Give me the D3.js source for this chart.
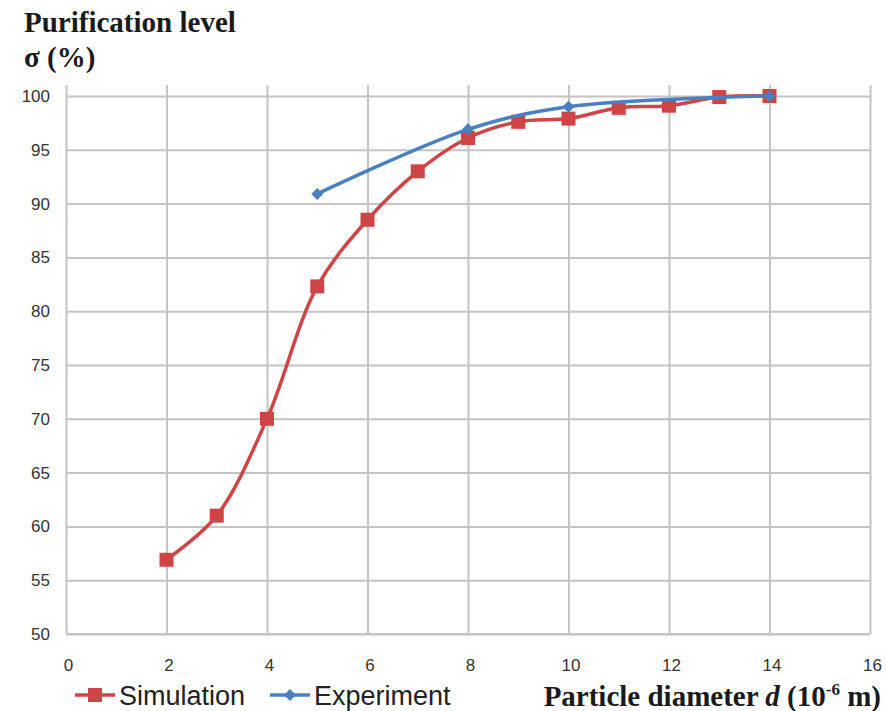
<!DOCTYPE html>
<html>
<head>
<meta charset="utf-8">
<script src="https://cdn.jsdelivr.net/npm/d3@7"></script>
<style>
  body { margin: 0; background: #fff; }
</style>
</head>
<body>
<svg id="chart"></svg>
<script>
// Data
const simX = [2, 3, 4, 5, 6, 7, 8, 9, 10, 11, 12, 13, 14];
const simY = [56.9, 61, 70, 82.3, 88.5, 93, 96.1, 97.6, 97.9, 98.9, 99.1, 99.9, 100];
const expX = [5, 8, 10, 14];
const expY = [90.9, 96.9, 99.0, 100];
const xTicks = [0, 2, 4, 6, 8, 10, 12, 14, 16];
const yTicks = [50, 55, 60, 65, 70, 75, 80, 85, 90, 95, 100];

const dims = {
    width: 886,
    height: 711,
    left: 66,
    right: 870,
    top: 96,
    bottom: 634
};

const svg = d3.select("#chart")
    .attr("width", dims.width)
    .attr("height", dims.height);

const x = d3.scaleLinear().domain([0, 16]).range([dims.left, dims.right]);
const y = d3.scaleLinear().domain([50, 100]).range([dims.bottom, dims.top]);

const gridColor = "#c4c4c4";
const sans = "'Liberation Sans', Arial, sans-serif";
const serif = "'Liberation Serif', 'Times New Roman', serif";

// horizontal grid + y labels
svg.append("g")
    .attr("transform", `translate(${dims.left},0)`)
    .call(d3.axisLeft(y).tickValues(yTicks).tickSize(-(dims.right - dims.left)).tickFormat(d3.format("d")))
    .call(g => g.select(".domain").remove())
    .call(g => g.selectAll(".tick line").attr("stroke", gridColor).attr("stroke-width", 2))
    .call(g => g.selectAll(".tick text")
        .attr("x", -16)
        .attr("fill", "#333")
        .style("font-family", sans)
        .style("font-size", "17px"));

// vertical grid (runs a little above the top line, as in the original)
svg.append("g")
    .attr("transform", `translate(0,${dims.bottom})`)
    .call(d3.axisBottom(x).tickValues(xTicks).tickSize(-(dims.bottom - dims.top + 11)).tickFormat(d3.format("d")))
    .call(g => g.select(".domain").remove())
    .call(g => g.selectAll(".tick line").attr("stroke", gridColor).attr("stroke-width", 2))
    .call(g => g.selectAll(".tick text")
        .attr("y", 25)
        .attr("dx", 2)
        .attr("fill", "#333")
        .style("font-family", sans)
        .style("font-size", "17px"));

// bottom axis line
svg.append("line")
    .attr("x1", dims.left).attr("x2", dims.right)
    .attr("y1", dims.bottom).attr("y2", dims.bottom)
    .attr("stroke", gridColor).attr("stroke-width", 2);

const line = d3.line()
    .x(d => x(d[0]))
    .y(d => y(d[1]))
    .curve(d3.curveCatmullRom.alpha(0.5));

const simData = simX.map((v, i) => [v, simY[i]]);
const expData = expX.map((v, i) => [v, expY[i]]);

const red = "#cf4545";
const blue = "#4a7fc1";

svg.append("path")
    .datum(simData)
    .attr("fill", "none")
    .attr("stroke", red)
    .attr("stroke-width", 3.5)
    .attr("d", line);

svg.append("g").selectAll("rect")
    .data(simData)
    .join("rect")
    .attr("x", d => x(d[0]) - 7)
    .attr("y", d => y(d[1]) - 7)
    .attr("width", 14)
    .attr("height", 14)
    .attr("fill", red);

svg.append("path")
    .datum(expData)
    .attr("fill", "none")
    .attr("stroke", blue)
    .attr("stroke-width", 3.5)
    .attr("d", line);

// square turned 45 degrees, like the Excel diamond marker
const diamond = d3.symbol().type(d3.symbolSquare).size(72);
svg.append("g").selectAll("path")
    .data(expData)
    .join("path")
    .attr("transform", d => `translate(${x(d[0])},${y(d[1])}) rotate(45)`)
    .attr("d", diamond)
    .attr("fill", blue);

// y title
svg.append("text")
    .attr("x", 24).attr("y", 32)
    .style("font-family", serif)
    .style("font-weight", "bold")
    .style("font-size", "29px")
    .attr("fill", "#1a1a1a")
    .text("Purification level");
svg.append("text")
    .attr("x", 24).attr("y", 67)
    .style("font-family", serif)
    .style("font-weight", "bold")
    .style("font-size", "29px")
    .attr("fill", "#1a1a1a")
    .text("σ (%)");

// legend
const legend = [
    { name: "Simulation", color: red, marker: "square", x: 75 },
    { name: "Experiment", color: blue, marker: "diamond", x: 270 }
];
const ly = 695;
legend.forEach(l => {
    svg.append("line")
        .attr("x1", l.x).attr("x2", l.x + 40)
        .attr("y1", ly).attr("y2", ly)
        .attr("stroke", l.color).attr("stroke-width", 3.5);
    if (l.marker === "square") {
        svg.append("rect")
            .attr("x", l.x + 13).attr("y", ly - 7)
            .attr("width", 14).attr("height", 14)
            .attr("fill", l.color);
    } else {
        svg.append("path")
            .attr("transform", `translate(${l.x + 20},${ly}) rotate(45)`)
            .attr("d", diamond)
            .attr("fill", l.color);
    }
    svg.append("text")
        .attr("x", l.x + 44).attr("y", ly + 10)
        .style("font-family", sans)
        .style("font-size", "27px")
        .attr("fill", "#222")
        .text(l.name);
});

// x title
const xt = svg.append("text")
    .attr("x", 881).attr("y", 706)
    .attr("text-anchor", "end")
    .style("font-family", serif)
    .style("font-weight", "bold")
    .style("font-size", "29px")
    .attr("fill", "#1a1a1a");
xt.append("tspan").text("Particle diameter ");
xt.append("tspan").style("font-style", "italic").text("d");
xt.append("tspan").text(" (10");
xt.append("tspan").attr("dy", -11).style("font-size", "17px").text("-6");
xt.append("tspan").attr("dy", 11).text(" m)");
</script>
</body>
</html>
